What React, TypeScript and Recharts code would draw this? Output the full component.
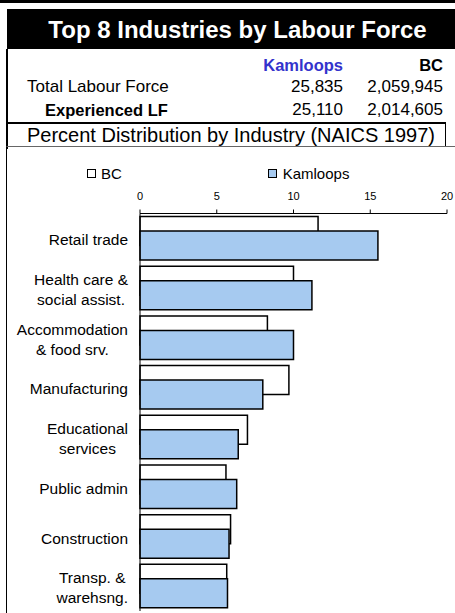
import React from 'react';
import { BarChart, Bar, XAxis, YAxis, Legend } from 'recharts';

const industries = [
  'Retail trade',
  'Health care &\nsocial assist.',
  'Accommodation\n& food srv.',
  'Manufacturing',
  'Educational\nservices',
  'Public admin',
  'Construction',
  'Transp. &\nwarehsng.',
];
const bcValues = [11.6, 10.0, 8.3, 9.7, 7.0, 5.6, 5.9, 5.65];
const kamloopsValues = [15.5, 11.2, 10.0, 8.0, 6.4, 6.3, 5.8, 5.7];
const xTicks = [0, 5, 10, 15, 20];
const seriesNames = ['BC', 'Kamloops'];
const headerCols = ['Kamloops', 'BC'];
const rowLabels = ['Total Labour Force', 'Experienced LF'];
const kamloopsLF = ['25,835', '25,110'];
const bcLF = ['2,059,945', '2,014,605'];
const titleText = 'Top 8 Industries by Labour Force';
const subtitleText = 'Percent Distribution by Industry (NAICS 1997)';

const data = industries.map((name, i) => ({ name, BC: bcValues[i], Kamloops: kamloopsValues[i] }));

const FONT = '"Liberation Sans", Arial, Helvetica, sans-serif';
const BLUE_FILL = '#A6CAF0';
const seriesFill: Record<string, string> = { BC: '#ffffff', Kamloops: BLUE_FILL };

let ctx: CanvasRenderingContext2D | null = null;
function measure(text: string, size: number): number {
  if (!ctx && typeof document !== 'undefined') {
    ctx = document.createElement('canvas').getContext('2d');
  }
  if (!ctx) return text.length * size * 0.5;
  ctx.font = `${size}px ${FONT}`;
  return ctx.measureText(text).width;
}

const YTick = (props: any) => {
  const { x, y, payload } = props;
  const lines = String(payload.value).split('\n');
  const fs = 15.5;
  const lh = 20;
  const blockW = Math.max(...lines.map((l) => measure(l, fs)));
  const cx = x - blockW / 2;
  const cy = y + 1.5;
  return (
    <g>
      {lines.map((l, i) => (
        <text
          key={i}
          x={cx}
          y={cy + (i - (lines.length - 1) / 2) * lh}
          dy={fs * 0.36}
          textAnchor="middle"
          fontSize={fs}
          fontFamily={FONT}
          fill="#000"
        >
          {l}
        </text>
      ))}
    </g>
  );
};

const legendPos = [
  { marker: 79.3, text: 93 },
  { marker: 260.3, text: 274.7 },
];

const LegendContent = () => (
  <div style={{ position: 'relative', width: 447, height: 30, fontFamily: FONT, fontSize: 15, color: '#000' }}>
    {seriesNames.map((n, i) => (
      <React.Fragment key={n}>
        <div
          style={{
            position: 'absolute',
            left: legendPos[i].marker,
            top: 16.3,
            width: 7,
            height: 7,
            border: '1.5px solid #000',
            background: seriesFill[n],
          }}
        />
        <div style={{ position: 'absolute', left: legendPos[i].text, top: 13, height: 16, lineHeight: '16px', whiteSpace: 'nowrap' }}>{n}</div>
      </React.Fragment>
    ))}
  </div>
);

const Txt = (p: any) => (
  <div
    style={{
      position: 'absolute',
      left: p.left,
      right: p.right,
      top: p.top,
      height: p.h,
      lineHeight: p.h + 'px',
      fontSize: p.size,
      fontWeight: p.bold ? 'bold' : 'normal',
      color: p.color || '#000',
      whiteSpace: 'nowrap',
      textAlign: p.align || 'left',
      width: p.width,
    }}
  >
    {p.children}
  </div>
);

export default function App() {
  return (
    <div
      style={{
        position: 'absolute',
        left: 0,
        top: 0,
        width: 455,
        height: 613,
        overflow: 'hidden',
        background: '#fff',
        fontFamily: FONT,
        color: '#000',
      }}
    >
      {/* top strip */}
      <div style={{ position: 'absolute', left: 0, top: 0, width: 455, height: 3, background: '#000' }} />
      {/* title box */}
      <div style={{ position: 'absolute', left: 7, top: 9, width: 448, height: 40, background: '#000' }} />
      <Txt left={7} top={10} h={40} width={461} size={24} bold color="#fff" align="center">
        {titleText}
      </Txt>
      {/* left border of header area */}
      <div style={{ position: 'absolute', left: 6, top: 49, width: 1.5, height: 100, background: '#000' }} />
      {/* header rows */}
      <Txt right={112} top={55} h={20} size={16.5} bold color="#3333CC">
        {headerCols[0]}
      </Txt>
      <Txt right={12} top={55} h={20} size={16.5} bold>
        {headerCols[1]}
      </Txt>
      <Txt left={27} top={77} h={20} size={17}>
        {rowLabels[0]}
      </Txt>
      <Txt right={112} top={77} h={20} size={17}>
        {kamloopsLF[0]}
      </Txt>
      <Txt right={12} top={77} h={20} size={17}>
        {bcLF[0]}
      </Txt>
      <Txt left={45} top={99.5} h={20} size={16.5} bold>
        {rowLabels[1]}
      </Txt>
      <Txt right={112} top={99.5} h={20} size={17}>
        {kamloopsLF[1]}
      </Txt>
      <Txt right={12} top={99.5} h={20} size={17}>
        {bcLF[1]}
      </Txt>
      {/* subtitle box */}
      <div
        style={{
          position: 'absolute',
          left: 6,
          top: 122,
          width: 438,
          height: 22,
          borderTop: '2px solid #000',
          borderLeft: '1.5px solid #000',
          borderRight: '1.5px solid #000',
          borderBottom: '1px solid #000',
        }}
      />
      <Txt left={27} top={124} h={22} size={20}>
        {subtitleText}
      </Txt>
      {/* chart frame */}
      <div
        style={{
          position: 'absolute',
          left: 6,
          top: 146,
          width: 455,
          height: 480,
          borderLeft: '1.5px solid #000',
          borderTop: '1px solid #666',
        }}
      />
      <div style={{ position: 'absolute', left: 8, top: 148 }}>
        <BarChart
          width={447}
          height={466}
          data={data}
          layout="vertical"
          barGap={-14.5}
          margin={{ top: 5, right: 8, bottom: 3, left: 0 }}
        >
          <Legend
            verticalAlign="top"
            align="left"
            wrapperStyle={{ left: 0, top: 5, width: 447, height: 30 }}
            content={() => <LegendContent />}
          />
          <XAxis
            type="number"
            orientation="top"
            domain={[0, 20]}
            ticks={xTicks}
            interval={0}
            height={30.5}
            tickSize={4}
            tickMargin={10}
            axisLine={{ stroke: '#000', strokeWidth: 1 }}
            tickLine={{ stroke: '#000' }}
            tick={{ fontSize: 11, fill: '#000', fontFamily: FONT }}
          />
          <YAxis
            type="category"
            dataKey="name"
            width={132}
            interval={0}
            tickSize={0}
            tickMargin={12}
            tickLine={false}
            axisLine={{ stroke: '#000', strokeWidth: 1 }}
            tick={<YTick />}
          />
          <Bar dataKey="BC" fill={seriesFill.BC} stroke="#000" strokeWidth={1.5} barSize={29} isAnimationActive={false} />
          <Bar
            dataKey="Kamloops"
            fill={seriesFill.Kamloops}
            stroke="#000"
            strokeWidth={1.5}
            barSize={29}
            isAnimationActive={false}
          />
        </BarChart>
      </div>
    </div>
  );
}
